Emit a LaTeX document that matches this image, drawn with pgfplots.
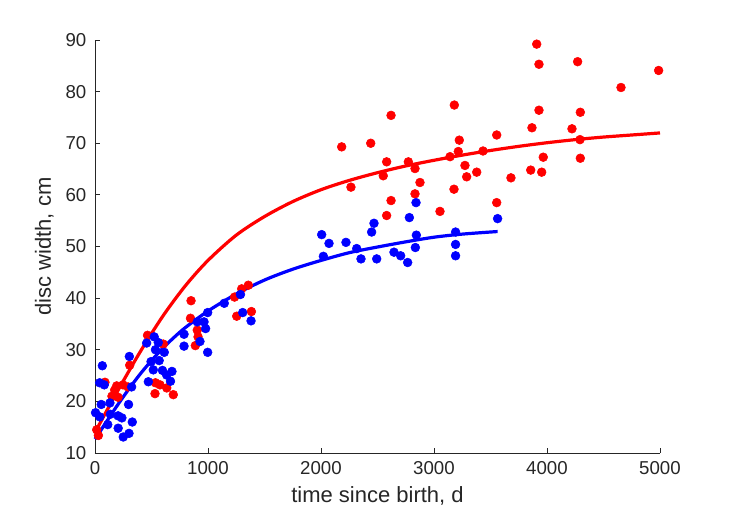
\documentclass[border=0pt]{standalone}
\usepackage{fontspec}
\setmainfont{Liberation Sans}
\usepackage{pgfplots}
\pgfplotsset{compat=1.18}
\definecolor{axgray}{rgb}{0.15,0.15,0.15}

\begin{document}
\begin{tikzpicture}[x=0.75pt,y=0.75pt]
% picture frame in reference pixels (axis box 95..660 x 40..453 of 729x521)
\useasboundingbox (-95,-68) rectangle (634,453);
\begin{axis}[
    at={(0,0)}, anchor=south west,
    scale only axis,
    width=423.75pt, height=309.75pt,
    xmin=0, xmax=5000, ymin=10, ymax=90,
    xtick={0,1000,...,5000}, ytick={10,20,...,90},
    axis x line*=bottom, axis y line*=left,
    axis line style={axgray, line width=0.6pt},
    tick style={axgray, line width=0.6pt},
    tick align=inside, major tick length=4pt,
    scaled x ticks=false,
    /pgf/number format/assume math mode=true,
    /pgf/number format/1000 sep={},
    ticklabel style={font=\fontsize{14}{16}\selectfont, text=axgray},
    xticklabel style={yshift=-3pt},
    yticklabel style={xshift=-3pt},
    label style={font=\fontsize{16.5}{19}\selectfont, text=axgray},
    xlabel={time since birth, d},
    ylabel={disc width, cm},
    xlabel style={yshift=-2pt},
    ylabel style={yshift=2pt},
    clip=false,
]
% red scatter
\addplot[only marks, mark=*, mark size=3.3pt, color=red] coordinates {
(15,14.5) (30,13.4) (88,23.7) (150,21.0) (174,22.2) (192,23.0) (204,20.8)
(248,23.2) (292,22.8) (307,27.0) (465,32.8) (604,31.1)
(535,23.6) (575,23.2) (635,22.6) (531,21.5) (693,21.3)
(850,39.5) (845,36.1) (905,33.8) (912,32.5) (888,30.8)
(1235,40.2) (1298,41.8) (1357,42.5) (1254,36.5) (1384,37.4)
(2183,69.3) (2265,61.5) (2440,70.0) (2551,63.7) (2581,66.4) (2581,56.0)
(2620,58.9) (2620,75.4) (2773,66.4) (2832,65.1) (2876,62.4) (2832,60.2)
(3053,56.8) (3142,67.4) (3180,77.4) (3224,70.6) (3215,68.4) (3274,65.7)
(3289,63.5) (3378,64.4) (3177,61.1) (3434,68.5) (3555,71.6) (3555,58.5)
(3681,63.3) (3856,64.8) (3867,73.0) (3909,89.2) (3929,85.3) (3929,76.4)
(3967,67.3) (3953,64.4) (4221,72.8) (4271,85.8) (4295,76.0) (4292,70.7)
(4295,67.1) (4655,80.8) (4988,84.1)
};
% red fitted curve
\addplot[color=red, line width=2.4pt, smooth] coordinates {
(0,14.0) (200,22.0) (400,29.6) (600,36.5) (800,42.4) (1000,47.3)
(1250,52.2) (1500,55.8) (1750,58.7) (2000,61.0) (2250,62.8) (2500,64.3)
(2750,65.6) (3000,66.7) (3250,67.7) (3500,68.6) (3750,69.4) (4000,70.1)
(4250,70.7) (4500,71.2) (4750,71.6) (5000,72.0)
};
% blue scatter
\addplot[only marks, mark=*, mark size=3.3pt, color=blue] coordinates {
(65,26.9) (304,28.7) (41,23.6) (82,23.2) (55,19.4) (132,19.7) (5,17.8)
(42,17.0) (136,17.5) (204,17.2) (238,16.8) (297,19.4) (324,22.8)
(113,15.5) (205,14.8) (330,16.0) (250,13.1) (301,13.8)
(457,31.3) (524,32.5) (560,31.4) (535,30.0) (613,29.5) (496,27.7)
(568,27.9) (516,26.1) (597,26.0) (681,25.8) (634,25.1) (668,23.9)
(472,23.8) (788,33.0) (788,30.7) (905,35.4) (965,35.4) (979,34.1)
(929,31.6) (997,29.5) (997,37.2) (1144,39.0) (1287,40.7) (1307,37.2)
(1381,35.6)
(2006,52.3) (2071,50.6) (2021,48.1) (2221,50.8) (2316,49.6) (2354,47.6)
(2493,47.6) (2469,54.5) (2448,52.8) (2646,48.9) (2705,48.2) (2767,46.9)
(2782,55.6) (2841,58.5) (2844,52.2) (2835,49.8) (3191,52.8) (3191,50.4)
(3191,48.2) (3563,55.4)
};
% blue fitted curve
\addplot[color=blue, line width=2.4pt, smooth] coordinates {
(0,12.7) (100,16.0) (200,19.3) (300,22.4) (400,25.3) (500,27.9) (600,30.3)
(700,32.4) (800,34.3) (1000,37.5) (1250,40.8) (1500,43.5) (1750,45.6)
(2000,47.3) (2250,48.8) (2500,49.9) (2750,50.9) (3000,51.8) (3250,52.4)
(3563,52.9)
};
\end{axis}
\end{tikzpicture}
\end{document}
